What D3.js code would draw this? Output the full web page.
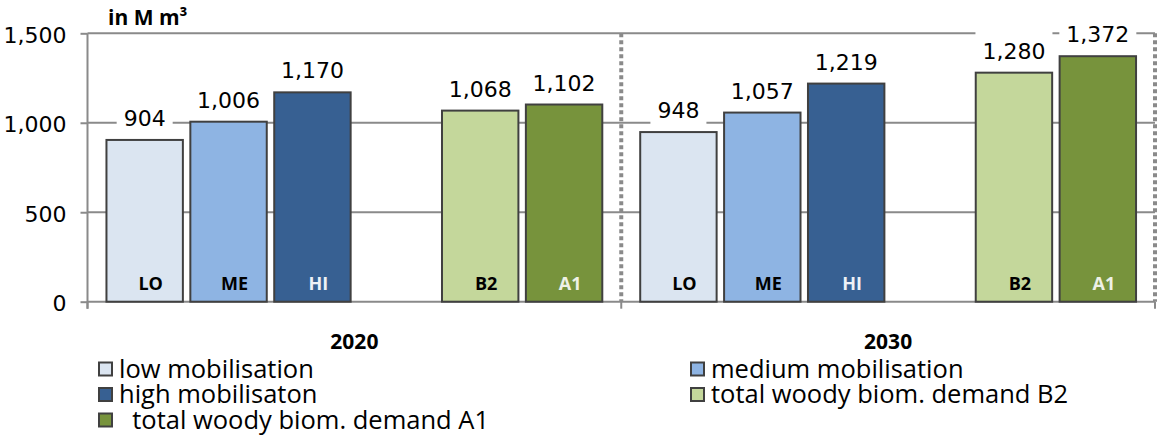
<!DOCTYPE html>
<html><head><meta charset="utf-8">
<script src="https://cdn.jsdelivr.net/npm/d3@7"></script>
<style>body{margin:0;background:#fff;} svg{display:block;}</style>
</head><body><svg id="chart" width="1160" height="448"></svg>
<script>
const years = ["2020", "2030"];
const slots = ["LO", "ME", "HI", "gap", "B2", "A1"];
const seriesCodes = ["LO", "ME", "HI", "B2", "A1"];
const seriesNames = ["low mobilisation", "medium mobilisation", "high mobilisaton", "total woody biom. demand B2", "\u00a0\u00a0total woody biom. demand A1"];
const values2020 = [904, 1006, 1170, 1068, 1102];
const values2030 = [948, 1057, 1219, 1280, 1372];
const yTickValues = [0, 500, 1000, 1500];
const unitLabel = "in M m³";

const fills = ["#dbe5f1", "#8eb4e3", "#376092", "#c4d79b", "#77933c"];
const codeFill = ["#000", "#000", "#eef1f6", "#000", "#eef1e6"];
const gridColor = "#8a8a8a";
const barStroke = "#404040";

const svg = d3.select("#chart");
svg.append("rect").attr("width", 1160).attr("height", 448).attr("fill", "#fff");

const x0 = d3.scaleBand().domain(years).range([87.5, 1155]);
const x1 = d3.scaleBand().domain(slots).range([0, x0.bandwidth()]).paddingInner(0.089).paddingOuter(0.226);
const y = d3.scaleLinear().domain([0, 1500]).range([301.7, 33.3]);

const valuesByYear = {"2020": values2020, "2030": values2030};
const data = [];
years.forEach(yr => seriesCodes.forEach((c, i) => data.push({year: yr, code: c, i, value: valuesByYear[yr][i]})));

// gridlines
svg.append("g").selectAll("line").data(yTickValues).join("line")
  .attr("x1", 87.5).attr("x2", 1155)
  .attr("y1", d => y(d)).attr("y2", d => y(d))
  .attr("stroke", gridColor).attr("stroke-width", 2);

// y axis
const yAxis = d3.axisLeft(y).tickValues(yTickValues).tickSize(7).tickPadding(14).tickFormat(d3.format(","));
const ga = svg.append("g").attr("transform", "translate(87.5,0)").call(yAxis);
ga.select(".domain").remove();
ga.selectAll(".tick line").attr("stroke", gridColor).attr("stroke-width", 2);
ga.selectAll(".tick text").attr("font-family", "DejaVu Sans").attr("font-size", 22).attr("fill", "#000").attr("dy", "0.4em");
svg.append("line").attr("x1", 87.5).attr("x2", 87.5).attr("y1", y(1500)).attr("y2", y(0) + 7)
  .attr("stroke", gridColor).attr("stroke-width", 2);

// category boundary ticks
const bounds = [x0(years[0]), x0(years[1]), x0(years[1]) + x0.bandwidth()];
svg.append("g").selectAll("line").data(bounds).join("line")
  .attr("x1", d => d).attr("x2", d => d).attr("y1", y(0)).attr("y2", y(0) + 7)
  .attr("stroke", gridColor).attr("stroke-width", 2);

// dotted separators
svg.append("g").selectAll("line").data(bounds.slice(1)).join("line")
  .attr("x1", d => d).attr("x2", d => d).attr("y1", y(1500)).attr("y2", y(0))
  .attr("stroke", gridColor).attr("stroke-width", 4).attr("stroke-dasharray", "4,3");

// bars
svg.append("g").selectAll("rect").data(data).join("rect")
  .attr("x", d => x0(d.year) + x1(d.code))
  .attr("y", d => y(d.value))
  .attr("width", x1.bandwidth())
  .attr("height", d => y(0) - y(d.value))
  .attr("fill", d => fills[d.i])
  .attr("stroke", barStroke).attr("stroke-width", 2);

// code labels inside bars
svg.append("g").selectAll("text").data(data).join("text")
  .attr("x", d => x0(d.year) + x1(d.code) + x1.bandwidth() / 2 + 6)
  .attr("y", y(0) - 12)
  .attr("text-anchor", "middle")
  .attr("font-family", "Open Sans").attr("font-weight", "bold").attr("font-size", 18)
  .attr("fill", d => codeFill[d.i])
  .text(d => d.code);

// value labels with white boxes
const vl = svg.append("g").selectAll("g").data(data).join("g");
vl.append("rect").attr("fill", "#fff");
vl.append("text")
  .attr("x", d => x0(d.year) + x1(d.code) + x1.bandwidth() / 2)
  .attr("y", d => y(d.value) - 14)
  .attr("text-anchor", "middle")
  .attr("font-family", "DejaVu Sans").attr("font-size", 22).attr("fill", "#000")
  .text(d => d3.format(",")(d.value));
vl.each(function(d) {
  const g = d3.select(this);
  const t = g.select("text");
  const w = t.node().getComputedTextLength();
  const cx = x0(d.year) + x1(d.code) + x1.bandwidth() / 2;
  const by = y(d.value) - 14;
  g.select("rect").attr("x", cx - w / 2 - 7).attr("width", w + 14).attr("y", by - 27).attr("height", 33);
});

// year labels
svg.append("g").selectAll("text").data(years).join("text")
  .attr("x", d => x0(d) + x0.bandwidth() / 2)
  .attr("y", 349)
  .attr("text-anchor", "middle")
  .attr("font-family", "Open Sans").attr("font-weight", "bold").attr("font-size", 21)
  .text(d => d);

// unit label
svg.append("text").attr("x", 108).attr("y", 25)
  .attr("font-family", "Open Sans").attr("font-weight", "bold").attr("font-size", 21)
  .text(unitLabel);

// legend
const legX = [99, 691], legY = [369, 394.5, 420];
const leg = svg.append("g").selectAll("g").data(seriesNames).join("g")
  .attr("transform", (d, i) => `translate(${legX[i % 2]},${legY[Math.floor(i / 2)]})`);
leg.append("rect").attr("x", 0).attr("y", -6.5).attr("width", 13).attr("height", 13)
  .attr("fill", (d, i) => fills[i]).attr("stroke", barStroke).attr("stroke-width", 2);
leg.append("text").attr("x", 20).attr("y", 8.5)
  .attr("font-family", "Open Sans").attr("font-size", 25.5).attr("fill", "#000")
  .text(d => d);
</script></body></html>
